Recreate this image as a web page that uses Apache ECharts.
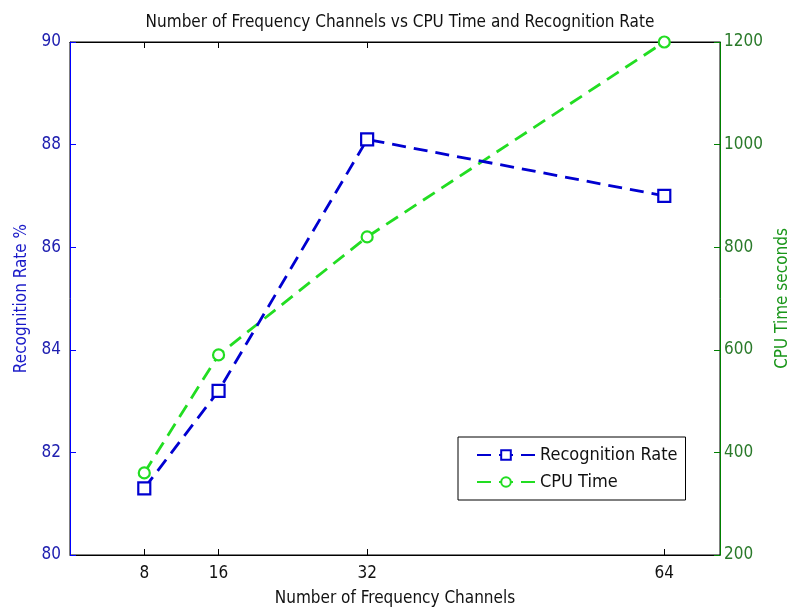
<!DOCTYPE html>
<html><head><meta charset="utf-8">
<script src="https://cdn.jsdelivr.net/npm/echarts@6/dist/echarts.min.js"></script>
<style>html,body{margin:0;padding:0;background:#fff}#c{width:789px;height:611px}</style>
</head><body><div id="c"></div>
<script>
const channels = [8, 16, 32, 64];
const recognitionRate = [81.3, 83.2, 88.1, 87.0];
const cpuTime = [360, 590, 820, 1200];
const xTicks = [8, 16, 32, 64];

const FONT = '"Liberation Sans Narrow", "DejaVu Sans Condensed", "Liberation Sans", sans-serif';
const chart = echarts.init(document.getElementById('c'), null, {renderer: 'canvas'});
const toPairs = (xs, ys) => xs.map((x, i) => [x, ys[i]]);
const plain = v => String(v);

chart.setOption({
  animation: false,
  backgroundColor: '#fff',
  title: {
    text: 'Number of Frequency Channels vs CPU Time and Recognition Rate',
    left: 395, textAlign: 'center', top: 9,
    textStyle: {fontFamily: FONT, fontSize: 17, fontWeight: 'normal', color: '#111'}
  },
  grid: {left: 70, right: 69, top: 42, bottom: 56, show: true, borderColor: '#000', borderWidth: 1,
         backgroundColor: 'transparent', outerBoundsMode: 'none', containLabel: false},
  legend: {
    orient: 'vertical', left: 458, top: 437,
    backgroundColor: '#fff', borderColor: '#000', borderWidth: 1,
    padding: [9, 8, 9, 18], itemGap: 9, itemWidth: 58, itemHeight: 12,
    textStyle: {fontFamily: FONT, fontSize: 18, color: '#111'},
    data: ['Recognition Rate', 'CPU Time']
  },
  xAxis: [{
    type: 'value', min: 0, max: 70, position: 'bottom',
    name: 'Number of Frequency Channels', nameLocation: 'middle', nameGap: 35,
    nameTextStyle: {fontFamily: FONT, fontSize: 17, color: '#111'},
    axisLine: {show: true, onZero: false, lineStyle: {color: '#000'}},
    axisTick: {show: true, inside: true, length: 6, customValues: xTicks, lineStyle: {color: '#000'}},
    axisLabel: {customValues: xTicks, formatter: plain, fontFamily: FONT, fontSize: 17, color: '#111', margin: 10},
    splitLine: {show: false}
  }, {
    type: 'value', min: 0, max: 70, position: 'top',
    axisLine: {show: true, onZero: false, lineStyle: {color: '#000'}},
    axisTick: {show: true, inside: true, length: 6, customValues: xTicks, lineStyle: {color: '#000'}},
    axisLabel: {show: false},
    splitLine: {show: false}
  }],
  yAxis: [{
    type: 'value', min: 80, max: 90, interval: 2, position: 'left',
    name: 'Recognition Rate %', nameLocation: 'middle', nameGap: 40, nameRotate: 90,
    nameTextStyle: {fontFamily: FONT, fontSize: 17, color: '#1a1ac8'},
    axisLine: {show: true, onZero: false, lineStyle: {color: '#0000ff'}},
    axisTick: {show: true, inside: true, length: 6, lineStyle: {color: '#0000ff'}},
    axisLabel: {formatter: plain, fontFamily: FONT, fontSize: 17, color: '#2020b0', margin: 9},
    splitLine: {show: false}
  }, {
    type: 'value', min: 200, max: 1200, interval: 200, position: 'right',
    name: 'CPU Time seconds', nameLocation: 'middle', nameGap: 51, nameRotate: 90,
    nameTextStyle: {fontFamily: FONT, fontSize: 17, color: '#1a961a'},
    axisLine: {show: true, onZero: false, lineStyle: {color: '#008000'}},
    axisTick: {show: true, inside: true, length: 6, lineStyle: {color: '#008000'}},
    axisLabel: {formatter: plain, fontFamily: FONT, fontSize: 17, color: '#2a7a2a', margin: 4},
    splitLine: {show: false}
  }],
  series: [{
    name: 'Recognition Rate', type: 'line', xAxisIndex: 0, yAxisIndex: 0,
    data: toPairs(channels, recognitionRate),
    symbol: 'rect', symbolSize: 12,
    itemStyle: {color: '#fff', borderColor: '#0000d0', borderWidth: 2.2},
    lineStyle: {color: '#0000d0', width: 2.8, type: [14, 8]},
    z: 3
  }, {
    name: 'CPU Time', type: 'line', xAxisIndex: 0, yAxisIndex: 1,
    data: toPairs(channels, cpuTime),
    symbol: 'circle', symbolSize: 11,
    itemStyle: {color: '#fff', borderColor: '#22dd22', borderWidth: 2.2},
    lineStyle: {color: '#22dd22', width: 2.8, type: [14, 8]},
    z: 2
  }]
});
</script></body></html>
